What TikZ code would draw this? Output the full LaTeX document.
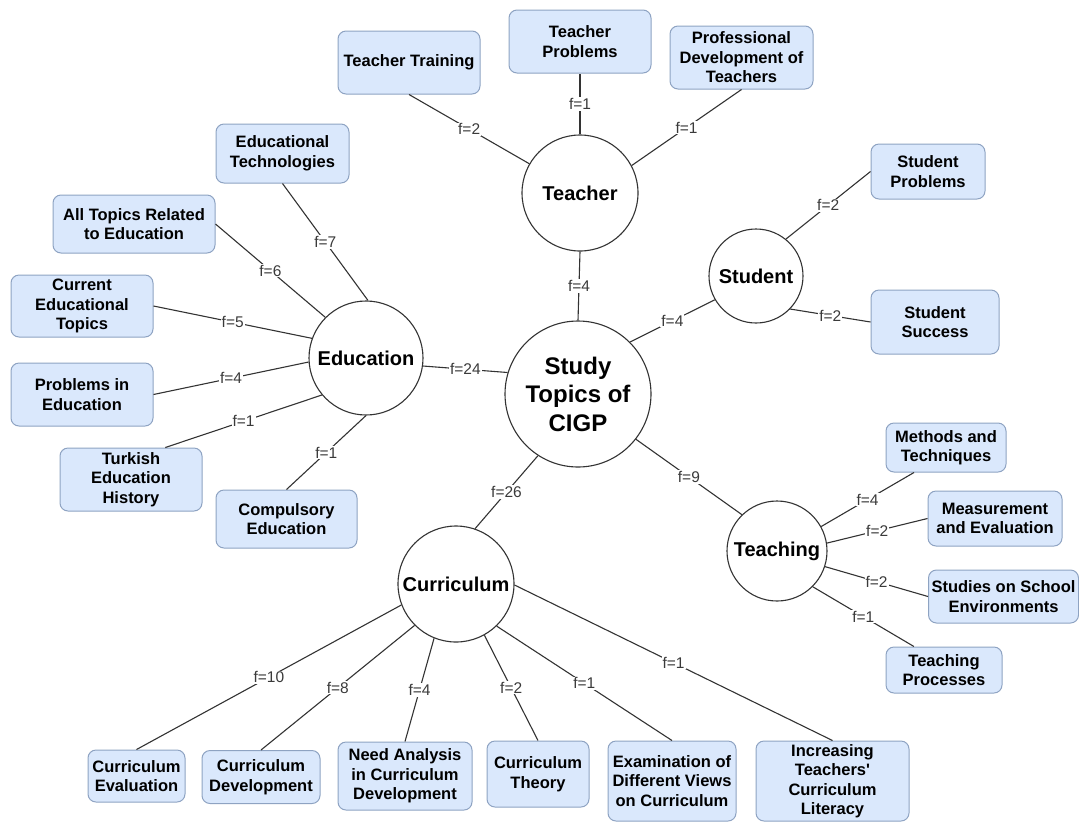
\documentclass[tikz,border=0pt]{standalone}
\usepackage{fontspec}
\setmainfont{Liberation Sans}
\definecolor{boxfill}{HTML}{DAE8FC}
\definecolor{boxline}{HTML}{8EA3C2}
\definecolor{edgecol}{HTML}{333333}
\definecolor{lblcol}{HTML}{3A3A3A}
\begin{document}
\begin{tikzpicture}[x=1pt,y=-1pt,
  box/.style={draw=boxline, fill=boxfill, rounded corners=8pt, line width=1pt, align=center,
    inner sep=0pt, font=\fontsize{16.5}{19.5}\selectfont\bfseries},
  topic/.style={draw=edgecol, fill=white, circle, line width=1.1pt, inner sep=0pt, align=center,
    font=\fontsize{20}{23}\selectfont\bfseries},
  edge/.style={draw=edgecol, line width=1.1pt},
  lbl/.style={fill=white, inner sep=1pt, text=lblcol, font=\fontsize{15.5}{18}\selectfont}]
\useasboundingbox (0,0) rectangle (1079,823);

% central and topic circles
\node[topic, minimum size=146pt, font=\fontsize{24}{28.5}\selectfont\bfseries] (c) at (578,394) {Study\\Topics of\\CIGP};
\node[topic, minimum size=116pt] (te) at (580,193) {Teacher};
\node[topic, minimum size=94pt] (su) at (756,276) {Student};
\node[topic, minimum size=114pt] (ed) at (366,358) {Education};
\node[topic, minimum size=100pt] (tg) at (777,551) {Teaching};
\node[topic, minimum size=116pt] (cu) at (456,584) {Curriculum};

% boxes
\node[box, minimum width=142pt, minimum height=63pt] (tt) at (409,62.5) {Teacher Training};
\node[box, minimum width=142pt, minimum height=63pt] (tp) at (580,41.5) {Teacher\\Problems};
\node[box, minimum width=143pt, minimum height=63pt] (pd) at (741.5,57.5) {Professional\\Development of\\Teachers};

\node[box, minimum width=133pt, minimum height=59pt] (et) at (282.5,153.5) {Educational\\Technologies};
\node[box, minimum width=162pt, minimum height=58pt] (at) at (134,224) {All Topics Related\\to Education};
\node[box, minimum width=142pt, minimum height=62pt] (ce) at (82,306) {Current\\Educational\\Topics};
\node[box, minimum width=142pt, minimum height=63pt] (pe) at (82,394.5) {Problems in\\Education};
\node[box, minimum width=142pt, minimum height=63pt] (tu) at (131,479.5) {Turkish\\Education\\History};
\node[box, minimum width=141pt, minimum height=58pt] (co) at (286.5,519) {Compulsory\\Education};

\node[box, minimum width=114pt, minimum height=55pt] (sp) at (928,171.5) {Student\\Problems};
\node[box, minimum width=128pt, minimum height=64pt] (ss) at (935,322) {Student\\Success};

\node[box, minimum width=120pt, minimum height=49pt] (me) at (946,447.5) {Methods and\\Techniques};
\node[box, minimum width=134pt, minimum height=55pt] (ms) at (995,518.5) {Measurement\\and Evaluation};
\node[box, minimum width=150pt, minimum height=53pt] (st) at (1003.5,596.5) {Studies on School\\Environments};
\node[box, minimum width=116pt, minimum height=46pt] (tpr) at (944,670) {Teaching\\Processes};

\node[box, minimum width=97pt, minimum height=52pt] (cev) at (136.5,776) {Curriculum\\Evaluation};
\node[box, minimum width=118pt, minimum height=53pt] (cdv) at (261,777) {Curriculum\\Development};
\node[box, minimum width=134pt, minimum height=68pt] (na) at (405,776) {Need Analysis\\in Curriculum\\Development};
\node[box, minimum width=102pt, minimum height=66pt] (cth) at (538,774) {Curriculum\\Theory};
\node[box, minimum width=128pt, minimum height=80pt] (ex) at (672,781) {Examination of\\Different Views\\on Curriculum};
\node[box, minimum width=153pt, minimum height=80pt] (inc) at (832.5,781) {Increasing\\Teachers\textquotesingle\\Curriculum\\Literacy};

% central edges
\draw[edge] (c.90) -- node[lbl]{f=4} (te.270);
\draw[edge] (c.45) -- node[lbl]{f=4} (su.210);
\draw[edge] (c.163) -- node[lbl]{f=24} (ed.352);
\draw[edge] (c.322) -- node[lbl]{f=9} (tg.134);
\draw[edge] (c.237) -- node[lbl]{f=26} (cu.71);

% teacher
\draw[edge] (te.150) -- node[lbl]{f=2} (tt.south);
\draw[edge] (te.90) -- node[lbl]{f=1} (tp.south);
\draw[edge] (te.28) -- node[lbl]{f=1} (pd.south);

% education
\draw[edge] (ed.88) -- node[lbl]{f=7} (et.south);
\draw[edge] (ed.135) -- node[lbl]{f=6} (at.east);
\draw[edge] (ed.160) -- node[lbl]{f=5} (ce.east);
\draw[edge] (ed.184) -- node[lbl]{f=4} (pe.east);
\draw[edge] (ed.220) -- node[lbl]{f=1} (tu.43);
\draw[edge] (ed.270) -- node[lbl]{f=1} (co.north);

% student
\draw[edge] (su.51) -- node[lbl]{f=2} (sp.west);
\draw[edge] (su.316) -- node[lbl]{f=2} (ss.west);

% teaching
\draw[edge] (tg.29) -- node[lbl]{f=4} (me.218);
\draw[edge] (tg.9) -- node[lbl]{f=2} (ms.west);
\draw[edge] (tg.342) -- node[lbl]{f=2} (st.west);
\draw[edge] (tg.315) -- node[lbl]{f=1} (tpr.142);

% curriculum
\draw[edge] (cu.201) -- node[lbl]{f=10} (cev.north);
\draw[edge] (cu.225) -- node[lbl]{f=8} (cdv.north);
\draw[edge] (cu.248) -- node[lbl]{f=4} (na.north);
\draw[edge] (cu.299) -- node[lbl]{f=2} (cth.north);
\draw[edge] (cu.314) -- node[lbl]{f=1} (ex.north);
\draw[edge] (cu.359) -- node[lbl]{f=1} (inc.north);
\end{tikzpicture}
\end{document}
